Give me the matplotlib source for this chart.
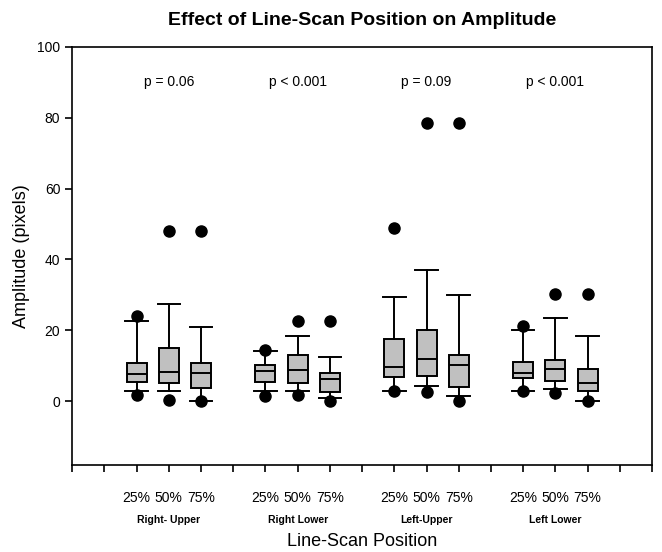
import matplotlib
matplotlib.use("Agg")
from matplotlib import pyplot as plt

plt.rcParams['font.family'] = ['Liberation Sans', 'DejaVu Sans']

groups = ["Right- Upper", "Right Lower", "Left-Upper", "Left Lower"]
levels = ["25%", "50%", "75%"]
p_values = ["p = 0.06", "p < 0.001", "p = 0.09", "p < 0.001"]

# box stats per box (group order, then 25/50/75%)
q1 = [5.4, 5.0, 3.7, 5.5, 5.0, 2.5, 6.9, 7.2, 4.1, 6.5, 5.7, 2.9]
med = [7.6, 8.2, 8.0, 8.4, 8.7, 6.2, 9.7, 12.0, 10.1, 8.0, 9.1, 5.0]
q3 = [10.8, 15.1, 10.7, 10.1, 12.9, 7.8, 17.6, 20.1, 12.9, 11.1, 11.5, 9.1]
whislo = [2.9, 2.9, 0.1, 2.9, 2.9, 0.8, 2.9, 4.3, 1.5, 2.9, 3.3, 0.1]
whishi = [22.7, 27.4, 20.8, 14.1, 18.4, 12.3, 29.5, 37.1, 29.9, 20.1, 23.4, 18.4]
out_lo = [1.7, 0.3, 0.1, 1.5, 1.7, 0.1, 2.9, 2.6, 0.1, 2.9, 2.2, 0.1]
out_hi = [24.1, 48.0, 48.0, 14.3, 22.6, 22.6, 49.0, 78.5, 78.5, 21.2, 30.3, 30.3]

positions = [2, 3, 4, 6, 7, 8, 10, 11, 12, 14, 15, 16]

stats = []
for i in range(len(med)):
    stats.append(dict(q1=q1[i], med=med[i], q3=q3[i], whislo=whislo[i],
                      whishi=whishi[i], fliers=[out_lo[i], out_hi[i]]))

fig = plt.figure(figsize=(6.62, 5.52), dpi=100)
ax = fig.add_axes([0.109, 0.158, 0.876, 0.757])

ax.bxp(stats, positions=positions, widths=0.62, capwidths=0.7, patch_artist=True,
       boxprops=dict(facecolor="#c0c0c0", edgecolor="black", linewidth=1.4),
       medianprops=dict(color="black", linewidth=1.4),
       whiskerprops=dict(color="black", linewidth=1.4),
       capprops=dict(color="black", linewidth=1.4),
       flierprops=dict(marker="o", markerfacecolor="black", markeredgecolor="black",
                       markersize=8, linestyle="none"))

ax.set_xlim(0, 18)
ax.set_ylim(-18, 100)
ax.set_yticks([0, 20, 40, 60, 80, 100])
ax.tick_params(axis="y", labelsize=10, direction="out", length=5, width=1.2)

ticklabels = [""] * 19
for pos, lab in zip(positions, levels * 4):
    ticklabels[pos] = lab
ax.set_xticks(range(19))
ax.set_xticklabels(ticklabels, fontsize=10)
ax.tick_params(axis="x", direction="out", length=5, width=1.2, pad=14)

for s in ax.spines.values():
    s.set_linewidth(1.2)

for k, g in enumerate(groups):
    ax.text(positions[3 * k + 1], -33.5, g, ha="center", va="center",
            fontsize=7.5, fontweight="bold")
    ax.text(positions[3 * k + 1], 90, p_values[k], ha="center", va="center",
            fontsize=10)

ax.set_ylabel("Amplitude (pixels)", fontsize=13, labelpad=5)
ax.set_xlabel("Line-Scan Position", fontsize=13, labelpad=20)
ax.set_title("Effect of Line-Scan Position on Amplitude", fontsize=14,
             fontweight="bold", pad=16)

fig.savefig("out.png", dpi=100)
